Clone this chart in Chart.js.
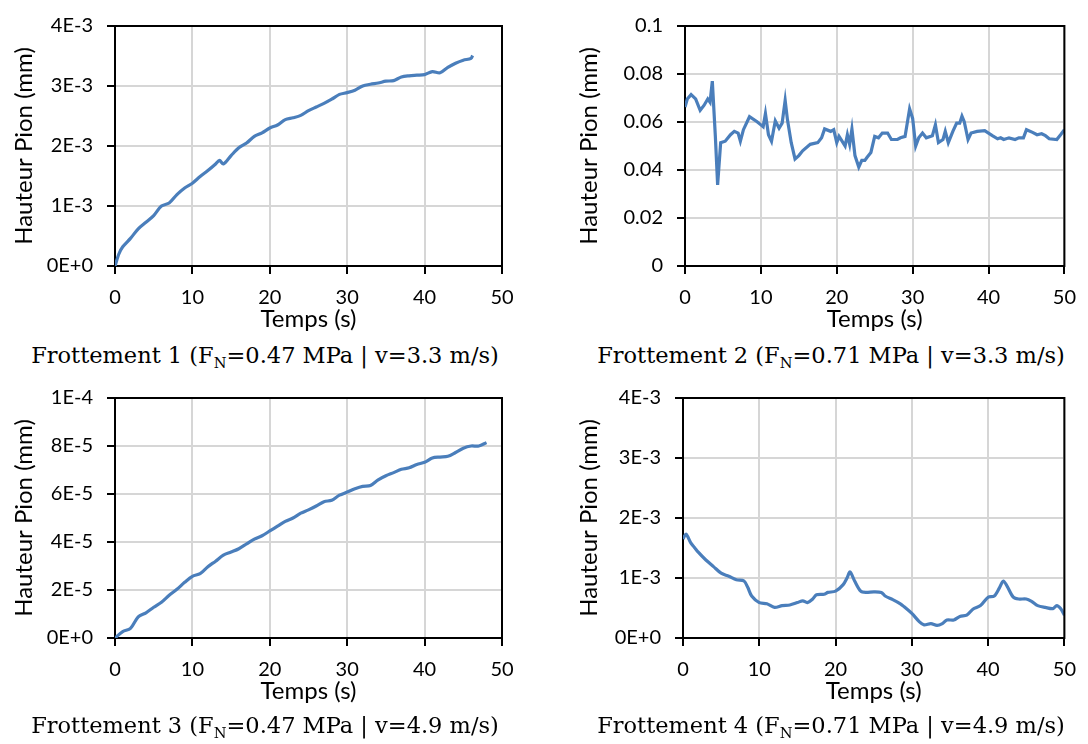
<!DOCTYPE html>
<html>
<head>
<meta charset="utf-8">
<script src="https://cdn.jsdelivr.net/npm/chart.js@4.4.1/dist/chart.umd.min.js"></script>
<style>
  html, body { margin: 0; padding: 0; background: #fff; }
  #page { position: relative; width: 1088px; height: 744px; overflow: hidden; }
  .box { position: absolute; width: 544px; height: 340px; }
  .cap { position: absolute; width: 530px; height: 30px; line-height: 30px; text-align: center;
         font-family: "DejaVu Serif", serif; font-size: 22.5px; color: #000; white-space: nowrap; }
  .cap sub { font-size: 65%; vertical-align: -0.35em; line-height: 0; }
</style>
</head>
<body>
<div id="page">
  <div class="box" style="left:0;top:0"><canvas id="c1"></canvas></div>
  <div class="box" style="left:544px;top:0"><canvas id="c2"></canvas></div>
  <div class="box" style="left:0;top:372px"><canvas id="c3"></canvas></div>
  <div class="box" style="left:544px;top:372px"><canvas id="c4"></canvas></div>
  <div class="cap" style="left:0;top:340px">Frottement 1 (F<sub>N</sub>=0.47 MPa | v=3.3 m/s)</div>
  <div class="cap" style="left:566px;top:340px">Frottement 2 (F<sub>N</sub>=0.71 MPa | v=3.3 m/s)</div>
  <div class="cap" style="left:0;top:710px">Frottement 3 (F<sub>N</sub>=0.47 MPa | v=4.9 m/s)</div>
  <div class="cap" style="left:566px;top:710px">Frottement 4 (F<sub>N</sub>=0.71 MPa | v=4.9 m/s)</div>
</div>
<script>
// shared axes
const xTicks = [0, 10, 20, 30, 40, 50];
const xLabel = 'Temps (s)';
const yLabel = 'Hauteur Pion (mm)';

// Frottement 1 - hauteur en 1E-3 mm
const t1 = [0, 0.5, 1, 2, 3, 4, 5, 6, 7, 8, 9, 10, 11, 12, 13, 13.5, 14, 15, 16, 17,
  18, 19, 20, 21, 22, 23, 24, 25, 26, 27, 28, 29, 30, 31, 32, 33, 34, 35, 36, 37,
  38, 39, 40, 41, 42, 43, 44, 45, 46, 46.2];
const h1 = [0, 0.2, 0.32, 0.46, 0.62, 0.73, 0.84, 1.0, 1.05, 1.19, 1.3, 1.38, 1.49, 1.59, 1.70, 1.76, 1.70, 1.84, 1.97, 2.05,
  2.16, 2.22, 2.30, 2.35, 2.44, 2.47, 2.51, 2.59, 2.65, 2.71, 2.78, 2.86, 2.89, 2.93, 3.0, 3.03, 3.05, 3.08, 3.09, 3.15,
  3.17, 3.18, 3.19, 3.24, 3.22, 3.31, 3.38, 3.43, 3.46, 3.51];
const yTicks1 = [0, 1e-3, 2e-3, 3e-3, 4e-3];
const yLabels1 = ['0E+0', '1E-3', '2E-3', '3E-3', '4E-3'];

// Frottement 2 - hauteur en mm
const t2 = [0, 0.3, 0.8, 1.4, 2.0, 2.5, 3.0, 3.3, 3.6, 4.0, 4.3, 4.7, 5.3, 6, 6.5, 7.0, 7.3, 7.7, 8.5, 9.5,
  10.0, 10.3, 10.6, 11.0, 11.4, 11.9, 12.4, 12.8, 13.2, 13.5, 14.0, 14.5, 15, 15.5, 16.5, 17.5, 18, 18.4, 19.2, 19.6,
  20.0, 20.3, 20.7, 21.1, 21.4, 21.7, 22.0, 22.4, 22.9, 23.3, 23.7, 24, 24.5, 25, 25.5, 26, 26.7, 27.2, 28, 28.4,
  29.0, 29.6, 30.0, 30.4, 30.8, 31.3, 31.8, 32.6, 33.0, 33.4, 34.0, 34.3, 34.7, 35.3, 35.8, 36.2, 36.5, 36.8, 37.3, 37.7,
  38.5, 39.5, 40.5, 41.2, 41.6, 42, 42.7, 43.5, 44, 44.6, 45.0, 45.8, 46.4, 47.0, 47.5, 48, 49, 49.5, 50];
const h2 = [0.0662, 0.0696, 0.0714, 0.0696, 0.0649, 0.0669, 0.0696, 0.0682, 0.0770, 0.054, 0.0338, 0.0514, 0.052, 0.0547, 0.0561, 0.0554, 0.052, 0.0568, 0.0622, 0.0601,
  0.0588, 0.058, 0.0635, 0.0547, 0.052, 0.0605, 0.0574, 0.0595, 0.069, 0.061, 0.0514, 0.0446, 0.046, 0.048, 0.0507, 0.0514, 0.0534, 0.0571, 0.0561, 0.0568,
  0.0514, 0.054, 0.052, 0.05, 0.0547, 0.0507, 0.0571, 0.046, 0.0412, 0.044, 0.044, 0.0453, 0.0473, 0.054, 0.0534, 0.0554, 0.0554, 0.0527, 0.0527, 0.0534,
  0.054, 0.0655, 0.0615, 0.05, 0.0534, 0.0554, 0.0534, 0.0543, 0.0588, 0.0514, 0.0527, 0.0561, 0.0514, 0.0561, 0.0595, 0.0595, 0.0624, 0.0601, 0.0527, 0.0554,
  0.0561, 0.0564, 0.0543, 0.053, 0.0534, 0.0527, 0.0534, 0.0527, 0.0534, 0.0534, 0.0568, 0.0557, 0.0547, 0.0551, 0.0543, 0.053, 0.0527, 0.0547, 0.0568];
const yTicks2 = [0, 0.02, 0.04, 0.06, 0.08, 0.1];
const yLabels2 = ['0', '0.02', '0.04', '0.06', '0.08', '0.1'];

// Frottement 3 - hauteur en 1E-5 mm
const t3 = [0, 1, 2, 3, 4, 5, 6, 7, 8, 9, 10, 11, 12, 13, 14, 15, 16, 17, 18, 19,
  20, 21, 22, 23, 24, 25, 26, 27, 28, 29, 30, 31, 32, 33, 34, 35, 36, 37, 38, 39,
  40, 41, 42, 43, 44, 45, 46, 47, 48];
const h3 = [0, 0.27, 0.4, 0.88, 1.05, 1.28, 1.49, 1.78, 2.03, 2.32, 2.57, 2.68, 2.97, 3.2, 3.45, 3.58, 3.72, 3.92, 4.12, 4.26,
  4.46, 4.66, 4.86, 5.0, 5.2, 5.34, 5.5, 5.68, 5.74, 5.95, 6.08, 6.22, 6.32, 6.35, 6.59, 6.76, 6.89, 7.03, 7.09, 7.23,
  7.32, 7.5, 7.54, 7.57, 7.73, 7.91, 8.0, 8.0, 8.14];
const yTicks3 = [0, 2e-5, 4e-5, 6e-5, 8e-5, 1e-4];
const yLabels3 = ['0E+0', '2E-5', '4E-5', '6E-5', '8E-5', '1E-4'];

// Frottement 4 - hauteur en 1E-3 mm
const t4 = [0, 0.4, 1, 1.5, 2, 3, 4, 5, 6, 7, 8, 8.5, 9, 10, 11, 12, 13, 14, 15, 15.7,
  16.3, 17, 17.5, 18.5, 19, 20, 21, 21.5, 21.9, 22.5, 23.3, 24, 25, 26, 26.5, 27.5, 28.5, 29, 30, 31,
  31.6, 32.5, 33.3, 34, 34.6, 35.5, 36.3, 37.2, 38, 39, 40, 40.8, 41.5, 42, 42.5, 43.3, 44, 45, 45.7, 46.5,
  47.5, 48.5, 49, 49.5, 50];
const h4 = [1.65, 1.73, 1.59, 1.51, 1.43, 1.30, 1.19, 1.08, 1.03, 0.97, 0.95, 0.84, 0.70, 0.59, 0.57, 0.51, 0.54, 0.55, 0.59, 0.62,
  0.59, 0.65, 0.72, 0.73, 0.76, 0.78, 0.89, 1.0, 1.10, 0.95, 0.78, 0.76, 0.77, 0.76, 0.70, 0.64, 0.57, 0.52, 0.41, 0.27,
  0.22, 0.24, 0.21, 0.24, 0.30, 0.30, 0.36, 0.38, 0.48, 0.54, 0.68, 0.70, 0.84, 0.95, 0.86, 0.68, 0.65, 0.65, 0.61, 0.54,
  0.51, 0.49, 0.54, 0.49, 0.38];
const yTicks4 = [0, 1e-3, 2e-3, 3e-3, 4e-3];
const yLabels4 = ['0E+0', '1E-3', '2E-3', '3E-3', '4E-3'];

const LINE = '#4a7ebb';
const GRID = '#d6d6d6';
const tickFont = { family: 'Lato', size: 20 };
const titleFont = { family: 'Lato', size: 24 };

// black frame on top and right of the plot area
const frame = {
  id: 'frame',
  afterDatasetsDraw(chart) {
    const a = chart.chartArea, c = chart.ctx;
    c.save();
    c.strokeStyle = '#000';
    c.lineWidth = 2;
    c.beginPath();
    c.moveTo(a.left - 1, a.top);
    c.lineTo(a.right, a.top);
    c.lineTo(a.right, a.bottom + 1);
    c.stroke();
    c.restore();
  }
};

function makeChart(id, t, h, scale, yTicks, yLabels, yWidth, yTitlePad, tension) {
  const pts = t.map((x, i) => ({ x: x, y: h[i] * scale }));
  return new Chart(document.getElementById(id), {
    type: 'line',
    data: { datasets: [{ data: pts, borderColor: LINE, borderWidth: 3.2, pointRadius: 0, tension: tension, fill: false }] },
    options: {
      responsive: true,
      maintainAspectRatio: false,
      animation: false,
      layout: { padding: { top: 20, right: 544 - yWidth - 387, left: 0, bottom: 0 } },
      plugins: { legend: { display: false }, tooltip: { enabled: false } },
      scales: {
        x: {
          type: 'linear', min: 0, max: 50,
          afterBuildTicks: s => { s.ticks = xTicks.map(v => ({ value: v })); },
          afterFit: s => { s.height = 74; },
          ticks: { font: tickFont, color: '#000', padding: 12, maxRotation: 0 },
          grid: { color: GRID, lineWidth: 2, tickColor: '#000', tickWidth: 2, tickLength: 8 },
          border: { color: '#000', width: 2 },
          title: { display: true, text: xLabel, font: titleFont, color: '#000', padding: { top: 0, bottom: 6 } }
        },
        y: {
          min: yTicks[0], max: yTicks[yTicks.length - 1],
          afterBuildTicks: s => { s.ticks = yTicks.map(v => ({ value: v })); },
          afterFit: s => { s.width = yWidth; },
          ticks: { font: tickFont, color: '#000', padding: 14, callback: (v, i) => yLabels[i] },
          grid: { color: GRID, lineWidth: 2, tickColor: '#000', tickWidth: 2, tickLength: 8 },
          border: { color: '#000', width: 2 },
          title: { display: true, text: yLabel, font: titleFont, color: '#000', padding: { top: yTitlePad, bottom: 0 } }
        }
      }
    },
    plugins: [frame]
  });
}

makeChart('c1', t1, h1, 1e-3, yTicks1, yLabels1, 115, 10, 0.3);
makeChart('c2', t2, h2, 1, yTicks2, yLabels2, 141, 31, 0);
makeChart('c3', t3, h3, 1e-5, yTicks3, yLabels3, 115, 10, 0.3);
makeChart('c4', t4, h4, 1e-3, yTicks4, yLabels4, 139, 31, 0.3);
</script>
</body>
</html>
